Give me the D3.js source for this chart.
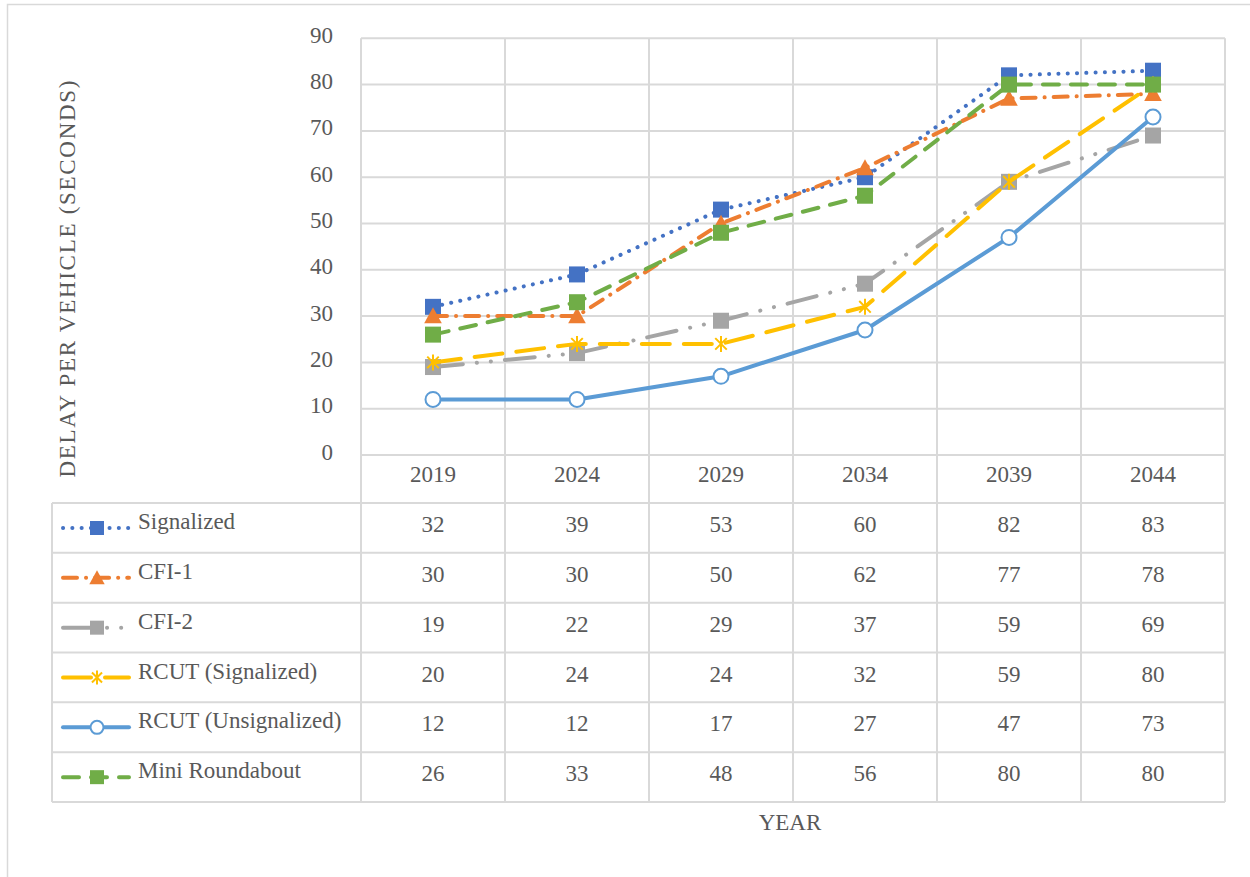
<!DOCTYPE html>
<html>
<head>
<meta charset="utf-8">
<script src="https://cdn.jsdelivr.net/npm/d3@7"></script>
<style>
  html, body { margin: 0; padding: 0; background: #fff; }
  svg { display: block; }
  text { font-family: "Liberation Serif", "DejaVu Serif", serif; fill: #595959; }
</style>
</head>
<body>
<svg id="chart" width="1250" height="877"></svg>
<script>
// Delay per vehicle (seconds) by design year and intersection type
const years = ["2019", "2024", "2029", "2034", "2039", "2044"];
const seriesNames = ["Signalized", "CFI-1", "CFI-2", "RCUT (Signalized)", "RCUT (Unsignalized)", "Mini Roundabout"];
const signalized    = [32, 39, 53, 60, 82, 83];
const cfi1          = [30, 30, 50, 62, 77, 78];
const cfi2          = [19, 22, 29, 37, 59, 69];
const rcutSignal    = [20, 24, 24, 32, 59, 80];
const rcutUnsignal  = [12, 12, 17, 27, 47, 73];
const miniRound     = [26, 33, 48, 56, 80, 80];
const yTicks = [0, 10, 20, 30, 40, 50, 60, 70, 80, 90];

const seriesValues = [signalized, cfi1, cfi2, rcutSignal, rcutUnsignal, miniRound];

// Visual style per series
const styles = [
  { color: "#4472C4", dash: "0.1 9.2", marker: "square" },
  { color: "#ED7D31", dash: "14 9 0.1 9", marker: "triangle" },
  { color: "#A5A5A5", dash: "30 14 0.1 14 0.1 14", marker: "square" },
  { color: "#FFC000", dash: "28 14", marker: "star" },
  { color: "#5B9BD5", dash: null, marker: "circle" },
  { color: "#70AD47", dash: "16 12", marker: "square" }
];

const svg = d3.select("#chart");
const gridColor = "#D9D9D9";
const fontSize = 23;

// Layout
const plot = { left: 361, right: 1225, top: 38.3, bottom: 455 };
const table = { left: 52, top: 503, bottom: 802 };
const headerTop = plot.bottom;

const x = d3.scaleBand().domain(years).range([plot.left, plot.right]);
const xc = d => x(d) + x.bandwidth() / 2;
const y = d3.scaleLinear().domain([0, 90]).range([plot.bottom, plot.top]);
const rowY = d3.scaleBand().domain(seriesNames).range([table.top, table.bottom]);

// Outer chart border
svg.append("rect")
  .attr("x", 7.5).attr("y", 4.5).attr("width", 1400).attr("height", 1000)
  .attr("fill", "none").attr("stroke", gridColor).attr("stroke-width", 1.5);

const grid = svg.append("g").attr("stroke", gridColor).attr("stroke-width", 2);

// Horizontal gridlines
grid.selectAll("line.h").data(yTicks).join("line")
  .attr("x1", plot.left).attr("x2", plot.right)
  .attr("y1", d => y(d)).attr("y2", d => y(d));

// Vertical category boundaries through plot and data table
const bounds = years.map(d => x(d)).concat([plot.right]);
grid.selectAll("line.v").data(bounds).join("line")
  .attr("x1", d => d).attr("x2", d => d)
  .attr("y1", plot.top).attr("y2", table.bottom);

// Data-table row lines
const rowLines = seriesNames.map(n => rowY(n)).concat([table.bottom]);
grid.selectAll("line.r").data(rowLines).join("line")
  .attr("x1", table.left).attr("x2", plot.right)
  .attr("y1", d => d).attr("y2", d => d);
grid.append("line")
  .attr("x1", table.left).attr("x2", table.left)
  .attr("y1", table.top).attr("y2", table.bottom);

// Y axis labels (sit slightly above their gridlines)
const yAxis = d3.axisLeft(y).tickValues(yTicks).tickSize(0).tickPadding(0);
const yg = svg.append("g").attr("transform", `translate(333,0)`).call(yAxis);
yg.select(".domain").remove();
yg.selectAll("text")
  .attr("font-size", fontSize).attr("fill", "#595959")
  .attr("font-family", "Liberation Serif, serif")
  .attr("dy", null).attr("y", 4);

// Year labels in header row
const xAxis = d3.axisBottom(x).tickSize(0).tickPadding(0);
const xg = svg.append("g").attr("transform", `translate(0,${headerTop})`).call(xAxis);
xg.select(".domain").remove();
xg.selectAll("text")
  .attr("font-size", fontSize).attr("fill", "#595959")
  .attr("font-family", "Liberation Serif, serif")
  .attr("y", 27).attr("dy", null);

// Axis titles
svg.append("text")
  .attr("transform", `translate(75,279) rotate(-90)`)
  .attr("text-anchor", "middle")
  .attr("font-size", fontSize)
  .attr("textLength", 397)
  .attr("lengthAdjust", "spacing")
  .text("DELAY PER VEHICLE (SECONDS)");

svg.append("text")
  .attr("x", 790).attr("y", 830)
  .attr("text-anchor", "middle")
  .attr("font-size", fontSize)
  .text("YEAR");

// Marker drawing
function drawMarker(g, type, color, size) {
  const s = size;
  if (type === "square") {
    g.append("rect").attr("x", -s / 2).attr("y", -s / 2).attr("width", s).attr("height", s)
      .attr("fill", color);
  } else if (type === "triangle") {
    g.append("path")
      .attr("d", `M0,${-s * 0.55} L${s * 0.55},${s * 0.45} L${-s * 0.55},${s * 0.45} Z`)
      .attr("fill", color);
  } else if (type === "circle") {
    g.append("circle").attr("r", s / 2 - 0.5)
      .attr("fill", "#fff").attr("stroke", color).attr("stroke-width", 2);
  } else if (type === "star") {
    const r = s / 2;
    const d = r * 0.72;
    g.append("path")
      .attr("d", `M0,${-r} L0,${r} M${-d},${-d} L${d},${d} M${-d},${d} L${d},${-d}`)
      .attr("stroke", color).attr("stroke-width", 2).attr("fill", "none");
  }
}

const line = d3.line().x((v, i) => xc(years[i])).y(v => y(v));

// Series lines and markers
seriesValues.forEach((vals, si) => {
  const st = styles[si];
  const g = svg.append("g");
  g.append("path")
    .attr("d", line(vals))
    .attr("fill", "none")
    .attr("stroke", st.color)
    .attr("stroke-width", 4)
    .attr("stroke-linecap", "round")
    .attr("stroke-linejoin", "round")
    .attr("stroke-dasharray", st.dash);
  vals.forEach((v, i) => {
    const mg = g.append("g").attr("transform", `translate(${xc(years[i])},${y(v)})`);
    drawMarker(mg, st.marker, st.color, 16);
  });
});

// Data table: legend keys, names and values
seriesNames.forEach((name, si) => {
  const st = styles[si];
  const top = rowY(name);
  const ky = top + 25;
  const row = svg.append("g");
  row.append("line")
    .attr("x1", 63).attr("x2", 129).attr("y1", ky).attr("y2", ky)
    .attr("stroke", st.color).attr("stroke-width", 4)
    .attr("stroke-linecap", "round")
    .attr("stroke-dasharray", st.dash);
  const mg = row.append("g").attr("transform", `translate(97,${ky})`);
  drawMarker(mg, st.marker, st.color, 14);
  row.append("text")
    .attr("x", 138).attr("y", top + 26)
    .attr("font-size", fontSize)
    .text(name);
  row.selectAll("text.v").data(seriesValues[si]).join("text")
    .attr("x", (v, i) => xc(years[i]))
    .attr("y", top + 29)
    .attr("text-anchor", "middle")
    .attr("font-size", fontSize)
    .text(v => v);
});
</script>
</body>
</html>
